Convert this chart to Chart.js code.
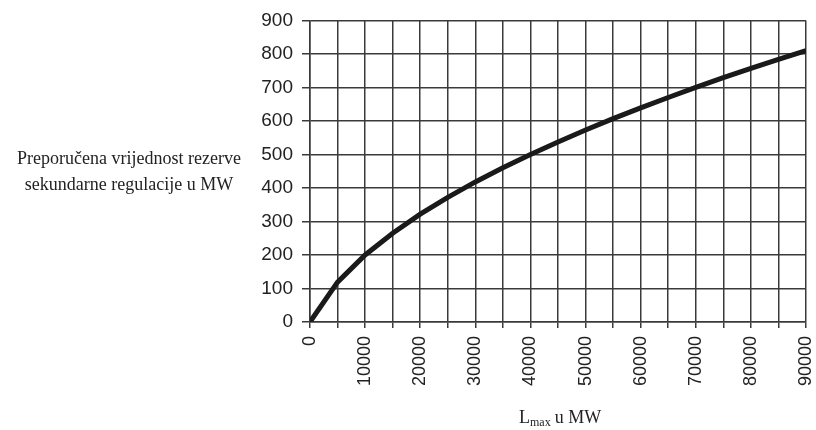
<!DOCTYPE html>
<html>
<head>
<meta charset="utf-8">
<script src="https://cdn.jsdelivr.net/npm/chart.js@4.4.0/dist/chart.umd.min.js"></script>
<style>
  html, body { margin: 0; padding: 0; background: #fff; }
  #wrap { width: 816px; height: 430px; }
</style>
</head>
<body>
<div id="wrap"><canvas id="chart" width="816" height="430"></canvas></div>
<script>
// ── DATA ──
const lmaxValues    = [0, 5000, 10000, 15000, 20000, 25000, 30000, 35000, 40000, 45000,
                       50000, 55000, 60000, 65000, 70000, 75000, 80000, 85000, 90000];
const reserveValues = [0, 119, 200, 265, 322, 372, 418, 460, 500, 537,
                       573, 607, 639, 670, 700, 729, 757, 784, 810];
const yTicks = [0, 100, 200, 300, 400, 500, 600, 700, 800, 900];
const xLabelTicks = [0, 10000, 20000, 30000, 40000, 50000, 60000, 70000, 80000, 90000];

const yTitleLines = ['Preporučena vrijednost rezerve', 'sekundarne regulacije u MW'];

const GRID = '#3a3a3a';
const INK  = '#222';

// ── AXIS TITLES (drawn outside the chart area) ──
const titlesPlugin = {
  id: 'titles',
  afterDraw(chart) {
    const ctx = chart.ctx;
    ctx.save();
    ctx.fillStyle = INK;
    ctx.font = '18px "Liberation Serif", "Times New Roman", serif';
    ctx.textAlign = 'center';
    ctx.textBaseline = 'alphabetic';
    ctx.fillText(yTitleLines[0], 129, 164);
    ctx.fillText(yTitleLines[1], 129, 190);

    // L_max u MW
    const base = 423;
    let x = 519;
    ctx.textAlign = 'left';
    ctx.font = '18px "Liberation Serif", "Times New Roman", serif';
    ctx.fillText('L', x, base);
    x += ctx.measureText('L').width;
    ctx.font = '12px "Liberation Serif", "Times New Roman", serif';
    ctx.fillText('max', x, base + 3);
    x += ctx.measureText('max').width + 4;
    ctx.font = '18px "Liberation Serif", "Times New Roman", serif';
    ctx.fillText('u MW', x, base);
    ctx.restore();
  }
};

// ── CHART ──
const ctx = document.getElementById('chart').getContext('2d');
new Chart(ctx, {
  type: 'line',
  data: {
    datasets: [{
      data: lmaxValues.map((v, i) => ({ x: v, y: reserveValues[i] })),
      borderColor: '#1a1a1a',
      borderWidth: 5,
      pointRadius: 0,
      tension: 0,
      fill: false,
    }]
  },
  options: {
    responsive: false,
    animation: false,
    layout: { padding: { left: 0, right: 10, top: 20, bottom: 0 } },
    plugins: { legend: { display: false }, tooltip: { enabled: false } },
    scales: {
      x: {
        type: 'linear',
        min: 0, max: 90000,
        afterFit: s => { s.height = 108; s.paddingLeft = 0; s.paddingRight = 0; },
        grid: { color: GRID, lineWidth: 1.5, tickLength: 6, tickColor: GRID },
        border: { color: GRID, width: 1.5 },
        ticks: {
          stepSize: 5000,
          minRotation: 90, maxRotation: 90,
          padding: 8,
          color: INK,
          font: { family: '"Liberation Sans", Arial, sans-serif', size: 18 },
          callback: v => xLabelTicks.includes(v) ? String(v) : ''
        }
      },
      y: {
        min: 0, max: 900,
        afterFit: s => { s.width = 310; },
        grid: { color: GRID, lineWidth: 1.5, tickLength: 8, tickColor: GRID },
        border: { color: GRID, width: 1.5 },
        afterBuildTicks: s => { s.ticks = yTicks.map(v => ({ value: v })); },
        ticks: {
          padding: 9,
          color: INK,
          font: { family: '"Liberation Sans", Arial, sans-serif', size: 19 }
        }
      }
    }
  },
  plugins: [titlesPlugin]
});
</script>
</body>
</html>
